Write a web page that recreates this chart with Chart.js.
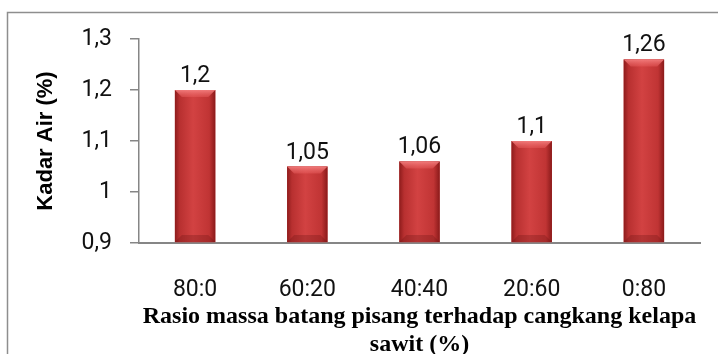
<!DOCTYPE html>
<html>
<head>
<meta charset="utf-8">
<script src="https://cdn.jsdelivr.net/npm/chart.js@4/dist/chart.umd.min.js"></script>
<style>
  html, body { margin: 0; padding: 0; background: #fff; overflow: hidden; }
  #wrap { width: 718px; height: 354px; position: relative; }
</style>
</head>
<body>
<div id="wrap"><canvas id="c" width="718" height="354"></canvas></div>
<script>
// Mass ratio of banana stem to palm kernel shell, and the measured moisture content
const categories = ['80:0', '60:20', '40:40', '20:60', '0:80'];
const kadarAir = [1.2, 1.05, 1.06, 1.1, 1.26];
const yTicks = [0.9, 1.0, 1.1, 1.2, 1.3];
const yTitle = 'Kadar Air (%)';
const xTitle = ['Rasio massa batang pisang terhadap cangkang kelapa', 'sawit (%)'];

const fmt = v => String(Number(v.toFixed(2))).replace('.', ',');
const AXIS = '#868686';

// Outer frame around the whole chart
const framePlugin = {
  id: 'frame',
  beforeDraw(chart) {
    const ctx = chart.ctx;
    ctx.save();
    ctx.strokeStyle = '#8e8e8e';
    ctx.lineWidth = 1.5;
    ctx.strokeRect(7.5, 12.5, 900, 500);
    ctx.restore();
  }
};

// Bevelled shading over each bar plus the value label above it
const bevelPlugin = {
  id: 'bevel',
  afterDatasetsDraw(chart) {
    const ctx = chart.ctx;
    const area = chart.chartArea;
    const meta = chart.getDatasetMeta(0);
    meta.data.forEach((el, i) => {
      const p = el.getProps(['x', 'y', 'base', 'width'], true);
      const l = p.x - p.width / 2, r = p.x + p.width / 2;
      const t = p.y, b = Math.min(p.base, area.bottom - 1);
      ctx.save();
      const g = ctx.createLinearGradient(l, 0, r, 0);
      g.addColorStop(0, '#8e1c1c');
      g.addColorStop(0.12, '#b83030');
      g.addColorStop(0.45, '#d24242');
      g.addColorStop(0.85, '#c03434');
      g.addColorStop(1, '#8a1a1a');
      ctx.fillStyle = g;
      ctx.fillRect(l, t, r - l, b - t);
      const bv = 7;
      // top bevel
      const tg = ctx.createLinearGradient(0, t, 0, t + bv);
      tg.addColorStop(0, 'rgba(245,130,130,0.9)');
      tg.addColorStop(1, 'rgba(230,90,90,0.5)');
      ctx.fillStyle = tg;
      ctx.beginPath();
      ctx.moveTo(l, t); ctx.lineTo(r, t); ctx.lineTo(r - bv, t + bv); ctx.lineTo(l + bv, t + bv); ctx.closePath();
      ctx.fill();
      // bottom bevel
      ctx.fillStyle = 'rgba(110,20,20,0.3)';
      ctx.beginPath();
      ctx.moveTo(l, b); ctx.lineTo(r, b); ctx.lineTo(r - bv, b - bv); ctx.lineTo(l + bv, b - bv); ctx.closePath();
      ctx.fill();
      // value label
      ctx.fillStyle = '#111';
      ctx.font = '23px Roboto';
      ctx.textAlign = 'center';
      ctx.textBaseline = 'alphabetic';
      ctx.fillText(fmt(kadarAir[i]), p.x, t - 8);
      ctx.restore();
    });
  }
};

new Chart(document.getElementById('c'), {
  type: 'bar',
  data: {
    labels: categories,
    datasets: [{
      data: kadarAir,
      base: 0.9,
      backgroundColor: '#c83636',
      borderWidth: 0,
      barPercentage: 0.36,
      categoryPercentage: 1.0
    }]
  },
  options: {
    responsive: false,
    animation: false,
    devicePixelRatio: 1,
    layout: { padding: { left: 8, right: 18, top: 39, bottom: 0 } },
    plugins: { legend: { display: false }, tooltip: { enabled: false } },
    scales: {
      x: {
        grid: { display: false },
        border: { display: true, color: AXIS, width: 2 },
        ticks: { color: '#111', font: { family: 'Roboto', size: 23 }, padding: 25, maxRotation: 0, autoSkip: false },
        title: {
          display: true,
          text: xTitle,
          color: '#000',
          font: { family: 'Liberation Serif', size: 24, weight: 'bold', lineHeight: '28px' },
          padding: { top: 0, bottom: -5 }
        },
        afterFit(scale) { scale.height = 111; }
      },
      y: {
        min: 0.9,
        max: 1.3,
        afterBuildTicks(scale) { scale.ticks = yTicks.map(v => ({ value: v })); },
        grid: { display: true, drawOnChartArea: false, drawTicks: true, tickLength: 9, color: AXIS, lineWidth: 1.5 },
        border: { display: true, color: AXIS, width: 1.5 },
        ticks: { color: '#111', font: { family: 'Roboto', size: 23 }, padding: 18, callback: v => fmt(v) },
        title: {
          display: true,
          text: yTitle,
          color: '#000',
          font: { family: 'Liberation Sans', size: 22, weight: 'bold' },
          padding: { top: 25, bottom: 0 }
        },
        afterFit(scale) { scale.width = 131; }
      }
    }
  },
  plugins: [framePlugin, bevelPlugin]
});
</script>
</body>
</html>
